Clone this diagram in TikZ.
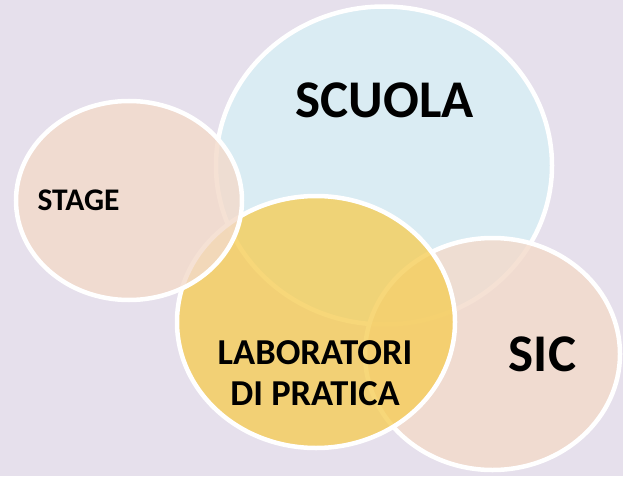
\documentclass[tikz,border=0pt]{standalone}
\usepackage{fontspec}
\setmainfont{Carlito}
\usetikzlibrary{shapes.geometric}
\definecolor{bgcol}{RGB}{230,224,236}
\definecolor{bluecol}{RGB}{216,240,245}
\definecolor{peachcol}{RGB}{243,218,202}
\definecolor{goldcol}{RGB}{245,205,88}
\begin{document}
\begin{tikzpicture}[x=1pt,y=-1pt,
  blob/.style={ellipse, draw=white, line width=4.5pt, fill opacity=0.8, draw opacity=1, inner sep=0pt},
  lbl/.style={font=\bfseries, text=black, align=center, inner sep=0pt}]
\fill[bgcol] (0,0) rectangle (623,476);
\useasboundingbox (0,0) rectangle (623,476);
\node[blob, fill=bluecol, minimum width=336pt, minimum height=318pt] (scuola) at (384,165.5) {};
\node[blob, fill=peachcol, minimum width=255pt, minimum height=232pt] (sic) at (492.5,354) {};
\node[blob, fill=goldcol, minimum width=278pt, minimum height=252pt] (lab) at (316,322) {};
\node[blob, fill=peachcol, minimum width=226pt, minimum height=199pt] (stage) at (129,200.5) {};
\node[lbl, font=\bfseries\fontsize{53}{53}\selectfont] (tscuola) at (384.5,100) {SCUOLA};
\node[lbl, font=\bfseries\fontsize{31.5}{31.5}\selectfont] (tstage) at (78.5,200.5) {STAGE};
\node[lbl, font=\bfseries\fontsize{36.5}{41}\selectfont] (tlab) at (315,373.5) {LABORATORI\\DI PRATICA};
\node[lbl, font=\bfseries\fontsize{53}{53}\selectfont] (tsic) at (542.5,354.5) {SIC};
\end{tikzpicture}
\end{document}
